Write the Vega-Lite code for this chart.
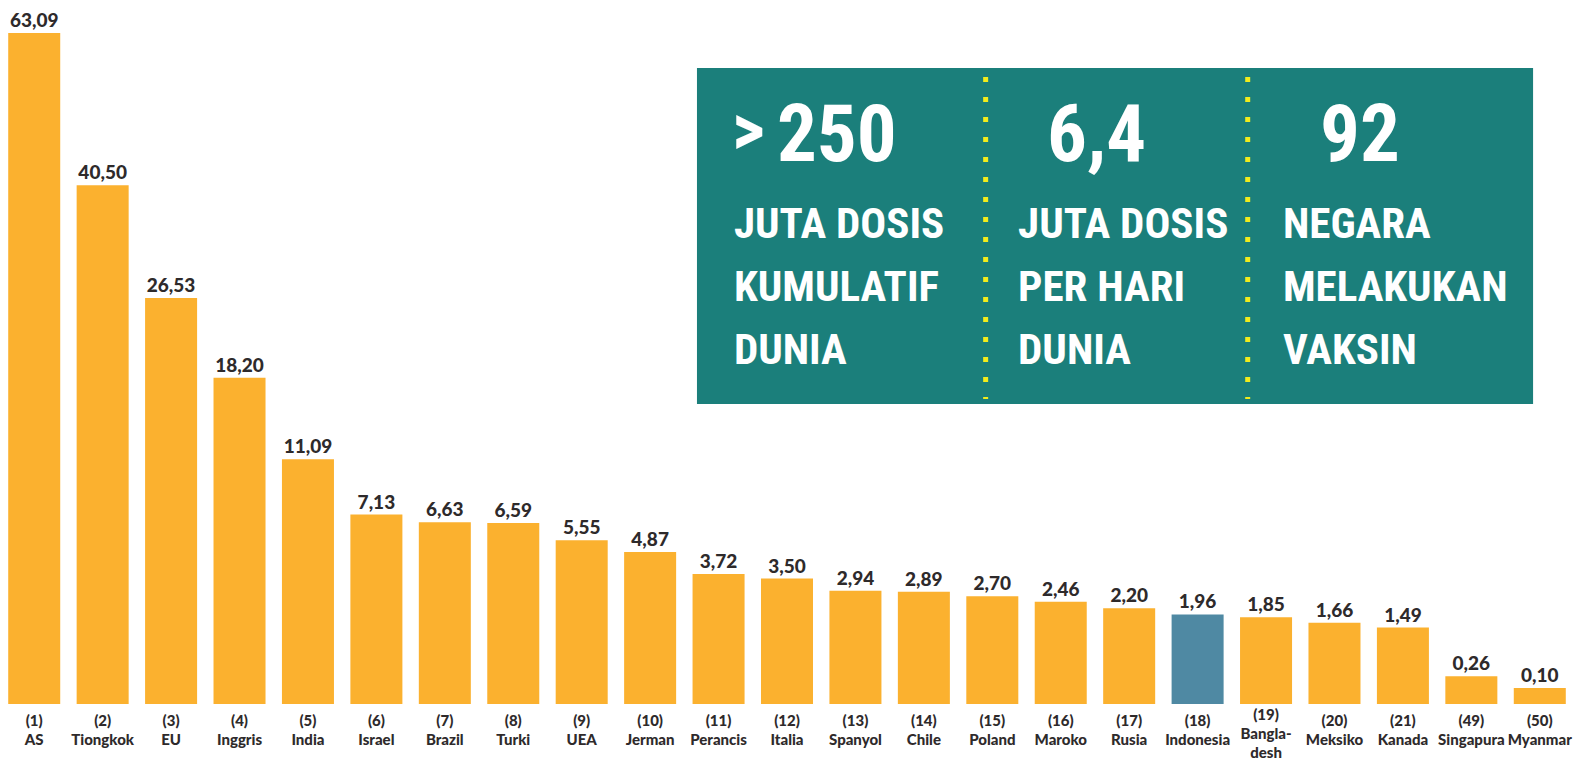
{
  "$schema": "https://vega.github.io/schema/vega-lite/v6.json",
  "width": 1574,
  "height": 704,
  "autosize": {"type": "none"},
  "padding": {"left": 0, "top": 0, "right": 14, "bottom": 57},
  "background": "white",
  "config": {
    "view": {"stroke": null},
    "font": "Lato",
    "locale": {"number": {"decimal": ",", "thousands": ".", "grouping": [3], "currency": ["", ""]}}
  },
  "datasets": {
    "vaksin": [
      {"label": "(1)|AS", "negara": "AS", "dosis": 63.09},
      {"label": "(2)|Tiongkok", "negara": "Tiongkok", "dosis": 40.50},
      {"label": "(3)|EU", "negara": "EU", "dosis": 26.53},
      {"label": "(4)|Inggris", "negara": "Inggris", "dosis": 18.20},
      {"label": "(5)|India", "negara": "India", "dosis": 11.09},
      {"label": "(6)|Israel", "negara": "Israel", "dosis": 7.13},
      {"label": "(7)|Brazil", "negara": "Brazil", "dosis": 6.63},
      {"label": "(8)|Turki", "negara": "Turki", "dosis": 6.59},
      {"label": "(9)|UEA", "negara": "UEA", "dosis": 5.55},
      {"label": "(10)|Jerman", "negara": "Jerman", "dosis": 4.87},
      {"label": "(11)|Perancis", "negara": "Perancis", "dosis": 3.72},
      {"label": "(12)|Italia", "negara": "Italia", "dosis": 3.50},
      {"label": "(13)|Spanyol", "negara": "Spanyol", "dosis": 2.94},
      {"label": "(14)|Chile", "negara": "Chile", "dosis": 2.89},
      {"label": "(15)|Poland", "negara": "Poland", "dosis": 2.70},
      {"label": "(16)|Maroko", "negara": "Maroko", "dosis": 2.46},
      {"label": "(17)|Rusia", "negara": "Rusia", "dosis": 2.20},
      {"label": "(18)|Indonesia", "negara": "Indonesia", "dosis": 1.96},
      {"label": "(19)|Bangla-|desh", "negara": "Bangladesh", "dosis": 1.85},
      {"label": "(20)|Meksiko", "negara": "Meksiko", "dosis": 1.66},
      {"label": "(21)|Kanada", "negara": "Kanada", "dosis": 1.49},
      {"label": "(49)|Singapura", "negara": "Singapura", "dosis": 0.26},
      {"label": "(50)|Myanmar", "negara": "Myanmar", "dosis": 0.10}
    ],
    "kotak": [{"x0": 44.28, "x1": 97.40, "y0": 42.61, "y1": 90.34}],
    "pemisah": [
      {"x": 62.62, "y0": 43.32, "y1": 89.06},
      {"x": 79.27, "y0": 43.32, "y1": 89.06}
    ],
    "teks": [
      {"teks": ">", "jenis": "simbol", "x": 47.55, "y": 81.32},
      {"teks": "250", "jenis": "angka", "x": 49.36, "y": 77.13},
      {"teks": "6,4", "jenis": "angka", "x": 66.52, "y": 77.13},
      {"teks": "92", "jenis": "angka", "x": 83.86, "y": 77.13},
      {"teks": "JUTA DOSIS", "jenis": "keterangan", "x": 46.63, "y": 66.22},
      {"teks": "KUMULATIF", "jenis": "keterangan", "x": 46.63, "y": 57.27},
      {"teks": "DUNIA", "jenis": "keterangan", "x": 46.63, "y": 48.25},
      {"teks": "JUTA DOSIS", "jenis": "keterangan", "x": 64.68, "y": 66.22},
      {"teks": "PER HARI", "jenis": "keterangan", "x": 64.68, "y": 57.27},
      {"teks": "DUNIA", "jenis": "keterangan", "x": 64.68, "y": 48.25},
      {"teks": "NEGARA", "jenis": "keterangan", "x": 81.51, "y": 66.22},
      {"teks": "MELAKUKAN", "jenis": "keterangan", "x": 81.51, "y": 57.27},
      {"teks": "VAKSIN", "jenis": "keterangan", "x": 81.51, "y": 48.25}
    ]
  },
  "layer": [
    {
      "data": {"name": "vaksin"},
      "encoding": {
        "x": {
          "field": "label", "type": "nominal", "sort": null,
          "scale": {"paddingInner": 0.24, "paddingOuter": 0.12},
          "axis": {
            "title": null, "domain": false, "ticks": false,
            "labelAngle": 0, "labelExpr": "split(datum.value, '|')",
            "labelFont": "Lato", "labelFontWeight": 900, "labelFontSize": 15,
            "labelColor": "#2e2a2b", "labelLineHeight": 19,
            "labelPadding": {"condition": {"test": "datum.value === '(19)|Bangla-|desh'", "value": 3}, "value": 9},
            "labelOverlap": false, "labelBound": false, "labelLimit": 200
          }
        },
        "y": {
          "field": "dosis", "type": "quantitative",
          "scale": {"type": "pow", "exponent": 0.58, "domain": [0, 68.54], "nice": false, "zero": true},
          "axis": null
        }
      },
      "layer": [
        {
          "mark": {"type": "bar"},
          "encoding": {
            "color": {
              "condition": {"test": "datum.negara === 'Indonesia'", "value": "#4f89a3"},
              "value": "#fbb12f"
            }
          }
        },
        {
          "mark": {"type": "text", "baseline": "alphabetic", "dy": -6, "font": "Lato", "fontWeight": 900, "fontSize": 19, "color": "#2e2a2b"},
          "encoding": {"text": {"field": "dosis", "type": "quantitative", "format": ".2f"}}
        }
      ]
    },
    {
      "layer": [
        {
          "data": {"name": "kotak"},
          "mark": {"type": "rect", "color": "#1b7f7b"},
          "encoding": {
            "x": {"field": "x0", "type": "quantitative", "scale": {"domain": [0, 100], "nice": false}, "axis": null},
            "x2": {"field": "x1"},
            "y": {"field": "y0", "type": "quantitative", "scale": {"domain": [0, 100], "nice": false}, "axis": null},
            "y2": {"field": "y1"}
          }
        },
        {
          "data": {"name": "pemisah"},
          "mark": {"type": "rule", "color": "#f2ec1c", "strokeWidth": 5, "strokeDash": [5, 15], "strokeCap": "butt"},
          "encoding": {
            "x": {"field": "x", "type": "quantitative"},
            "y": {"field": "y1", "type": "quantitative"},
            "y2": {"field": "y0"}
          }
        },
        {
          "data": {"name": "teks"},
          "transform": [{"filter": "datum.jenis === 'simbol'"}],
          "mark": {"type": "text", "align": "center", "baseline": "middle", "font": "Roboto Condensed, DejaVu Sans Condensed, sans-serif", "fontWeight": "bold", "fontSize": 72, "color": "white"},
          "encoding": {
            "x": {"field": "x", "type": "quantitative"},
            "y": {"field": "y", "type": "quantitative"},
            "text": {"field": "teks"}
          }
        },
        {
          "data": {"name": "teks"},
          "transform": [{"filter": "datum.jenis === 'angka'"}],
          "mark": {"type": "text", "align": "left", "baseline": "alphabetic", "font": "Roboto Condensed, DejaVu Sans Condensed, sans-serif", "fontWeight": "bold", "fontSize": 79, "color": "white"},
          "encoding": {
            "x": {"field": "x", "type": "quantitative"},
            "y": {"field": "y", "type": "quantitative"},
            "text": {"field": "teks"}
          }
        },
        {
          "data": {"name": "teks"},
          "transform": [{"filter": "datum.jenis === 'keterangan'"}],
          "mark": {"type": "text", "align": "left", "baseline": "alphabetic", "font": "Roboto Condensed, DejaVu Sans Condensed, sans-serif", "fontWeight": "bold", "fontSize": 43, "color": "white"},
          "encoding": {
            "x": {"field": "x", "type": "quantitative"},
            "y": {"field": "y", "type": "quantitative"},
            "text": {"field": "teks"}
          }
        }
      ]
    }
  ],
  "resolve": {"scale": {"x": "independent", "y": "independent"}}
}
